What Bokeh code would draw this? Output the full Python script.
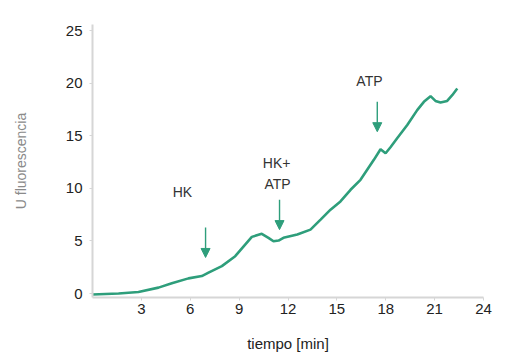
from bokeh.plotting import figure
from bokeh.models import ColumnDataSource, Arrow, NormalHead, Range1d, FixedTicker
from bokeh.core.properties import value
from bokeh.embed import file_html
from bokeh.resources import INLINE

# Data
tiempo = [0.0, 1.6, 2.82, 4.05, 4.87, 5.89, 6.71, 7.12, 7.94, 8.76, 9.37, 9.78,
          10.39, 10.8, 11.11, 11.42, 11.72, 12.57, 13.38, 14.0, 14.61, 15.22,
          15.84, 16.45, 16.86, 17.27, 17.68, 17.99, 18.29, 18.7, 19.32, 19.93,
          20.34, 20.75, 21.05, 21.36, 21.77, 22.08, 22.39]
fluor = [-0.1, 0.0, 0.14, 0.56, 0.97, 1.44, 1.66, 1.98, 2.61, 3.55, 4.66, 5.39,
         5.68, 5.30, 4.97, 5.04, 5.30, 5.61, 6.08, 7.03, 7.98, 8.76,
         9.87, 10.82, 11.77, 12.72, 13.73, 13.35, 13.92, 14.77, 16.03, 17.45,
         18.24, 18.78, 18.33, 18.18, 18.33, 18.87, 19.51]

arrow_x = [6.94, 11.48, 17.48]
arrow_top = [6.27, 8.93, 18.24]
arrow_tip = [3.43, 6.08, 15.4]

note_text = ["HK", "HK+", "ATP", "ATP"]
note_x = [5.52, 11.3, 11.36, 17.0]
note_y = [9.7, 12.4, 10.4, 20.2]

x_ticks = [3, 6, 9, 12, 15, 18, 21, 24]
y_ticks = [0, 5, 10, 15, 20, 25]

GREEN = "#2e9e7b"
FONT = "Liberation Sans"

p = figure(width=512, height=354, output_backend="svg", toolbar_location=None,
           x_range=Range1d(0, 24), y_range=Range1d(-0.38, 25.6),
           min_border_left=92, min_border_right=29, min_border_top=24,
           min_border_bottom=56)
p.outline_line_color = None
p.grid.visible = False
p.background_fill_color = "white"
p.border_fill_color = "white"

p.line(tiempo, fluor, line_color=GREEN, line_width=2.6)

for xa, yt, yb in zip(arrow_x, arrow_top, arrow_tip):
    p.add_layout(Arrow(x_start=xa, y_start=yt, x_end=xa, y_end=yb,
                       line_color=GREEN, line_width=1.4,
                       end=NormalHead(size=9, fill_color=GREEN,
                                      line_color=GREEN, line_width=1)))

src = ColumnDataSource(dict(x=note_x, y=note_y, t=note_text))
p.text("x", "y", text="t", source=src, text_font=value(FONT),
       text_font_size="14px", text_color="#333333", text_align="center",
       text_baseline="middle")

for ax in (p.xaxis[0], p.yaxis[0]):
    ax.axis_line_color = "#d6d6d6"
    ax.axis_line_width = 2
    ax.major_tick_line_color = "#d6d6d6"
    ax.major_tick_in = 0
    ax.major_tick_out = 3
    ax.minor_tick_line_color = None
    ax.major_label_text_font = FONT
    ax.major_label_text_font_size = "15px"
    ax.major_label_text_color = "#222222"

p.xaxis.ticker = FixedTicker(ticks=x_ticks)
p.yaxis.ticker = FixedTicker(ticks=y_ticks)
p.xaxis.major_label_standoff = 3
p.yaxis.major_label_standoff = 7

p.xaxis.axis_label = "tiempo [min]"
p.xaxis.axis_label_text_font = FONT
p.xaxis.axis_label_text_font_size = "15px"
p.xaxis.axis_label_text_font_style = "normal"
p.xaxis.axis_label_text_color = "#222222"
p.xaxis.axis_label_standoff = 18

p.yaxis.axis_label = "U fluorescencia"
p.yaxis.axis_label_text_font = FONT
p.yaxis.axis_label_text_font_size = "14px"
p.yaxis.axis_label_text_font_style = "normal"
p.yaxis.axis_label_text_color = "#8a8a8a"
p.yaxis.axis_label_standoff = 34

open("out.html", "w").write(file_html(p, INLINE))
